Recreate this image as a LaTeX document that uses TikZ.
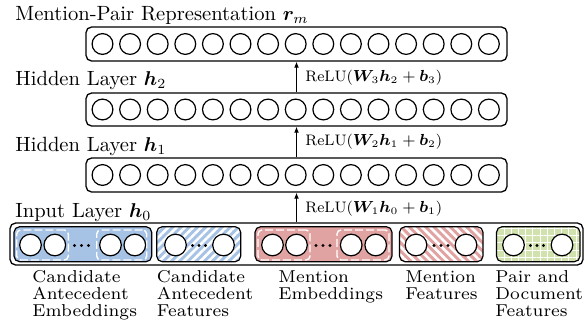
\documentclass[tikz,border=0pt]{standalone}
\usepackage{bm}
\usetikzlibrary{patterns.meta,arrows.meta}
\definecolor{cblue}{HTML}{A6C2E4}
\definecolor{cred}{HTML}{E1A2A2}
\definecolor{cgreen}{HTML}{D2E2AE}
\font\lblfont="[lmroman7-regular]:mapping=tex-text" at 8.6pt
\newcommand\lblsetup{\lblfont\baselineskip=8.5pt\relax}
\begin{document}
\begin{tikzpicture}[x=0.5pt,y=-0.5pt,
  font=\fontsize{10.3}{12}\selectfont,
  layer/.style={draw, rounded corners=2.8pt, line width=0.65pt, minimum width=210.5pt, minimum height=17pt, inner sep=0pt},
  unit/.style={circle, draw, fill=white, line width=0.6pt, minimum size=10.4pt, inner sep=0pt},
  group/.style={draw, rounded corners=2.8pt, line width=0.6pt, minimum height=17.5pt, inner sep=0pt},
  dashbox/.style={draw=white, rounded corners=2pt, line width=0.7pt, dash pattern=on 4pt off 1.5pt, minimum height=15pt, inner sep=0pt},
  arr/.style={line width=0.5pt, -{Latex[length=3pt,width=2.4pt]}},
  lname/.style={anchor=base west, inner sep=0pt},
  flabel/.style={anchor=base west, inner sep=0pt, font=\fontsize{7.6}{9}\selectfont},
  glabel/.style={anchor=north west, align=left, inner sep=0pt, font=\lblsetup}
]
\useasboundingbox (0,0) rectangle (587,322);

% layer boxes
\node[layer] (rm) at (296.5,44) {};
\node[layer, minimum height=16.5pt] (h2) at (296.5,109.5) {};
\node[layer] (h1) at (296.5,175) {};
\node[layer, minimum width=286.5pt, minimum height=21pt] (h0) at (296.5,244) {};

\foreach \k in {0,...,14} {
  \node[unit] (rm\k) at ({102.5+27.6*\k},44) {};
  \node[unit] (hb\k) at ({102.5+27.6*\k},109.5) {};
  \node[unit] (ha\k) at ({102.5+27.6*\k},175) {};
}

% layer names
\node[lname] (nrm) at (15,20) {Mention-Pair Representation $\bm{r}_m$};
\node[lname] (nh2) at (15,85.5) {Hidden Layer $\bm{h}_2$};
\node[lname] (nh1) at (15,151.5) {Hidden Layer $\bm{h}_1$};
\node[lname] (nh0) at (15,217.5) {Input Layer $\bm{h}_0$};

% arrows
\draw[arr] (h0.north) -- (h1.south);
\draw[arr] (h1.north) -- (h2.south);
\draw[arr] (h2.north) -- (rm.south);
\node[flabel] (f1) at (305,212.3) {ReLU($\bm{W}_1\bm{h}_0 + \bm{b}_1$)};
\node[flabel] (f2) at (305,145.7) {ReLU($\bm{W}_2\bm{h}_1 + \bm{b}_2$)};
\node[flabel] (f3) at (305,81.7) {ReLU($\bm{W}_3\bm{h}_2 + \bm{b}_3$)};

% input groups
\node[group, fill=cblue, minimum width=68.85pt] (cae) at (82.85,244.2) {};
\node[group, preaction={fill=cblue}, pattern={Lines[angle=45,distance=2.9pt,line width=1.3pt]}, pattern color=white, minimum width=42pt] (caf) at (198.7,244.2) {};
\node[group, fill=cred, minimum width=68.5pt] (me) at (323.5,244.2) {};
\node[group, preaction={fill=cred}, pattern={Lines[angle=-45,distance=2.9pt,line width=1.3pt]}, pattern color=white, minimum width=41.75pt] (mf) at (441.25,244.2) {};
\node[group, preaction={fill=cgreen}, pattern={Hatch[distance=3.6pt,line width=0.5pt]}, pattern color=white, minimum width=41.75pt] (pdf) at (538.25,244.2) {};

% dashed sub-boxes
\node[dashbox, minimum width=25.8pt] (caeA) at (42.5,245) {};
\node[dashbox, minimum width=25pt] (caeB) at (121.7,245) {};
\node[dashbox, minimum width=26pt] (meA) at (284,245) {};
\node[dashbox, minimum width=26pt] (meB) at (363,245) {};

% units in input
\foreach \x/\n in {30.5/c1,54.8/c2,110.5/c3,134.8/c4,
                   175.5/d1,223.5/d2,
                   272.5/e1,296.5/e2,351.2/e3,375.7/e4,
                   416/g1,466/g2,
                   513.5/p1,562/p2}
  \node[unit, minimum size=10.8pt] (\n) at (\x,245) {};

% dots
\foreach \cx/\s in {81.5/7,199/6.5,323/7,441/7,537/6.5}
  \foreach \d in {-1,0,1}
    \fill ({\cx+\d*\s},245.5) circle (0.85pt);

% group labels
\node[glabel] (lcae) at (32,270) {Candidate\\Antecedent\\Embeddings};
\node[glabel] (lcaf) at (156.5,270) {Candidate\\Antecedent\\Features};
\node[glabel] (lme) at (278,270) {Mention\\Embeddings};
\node[glabel] (lmf) at (405,270) {Mention\\Features};
\node[glabel] (lpdf) at (495,270) {Pair and\\Document\\Features};
\end{tikzpicture}
\end{document}
